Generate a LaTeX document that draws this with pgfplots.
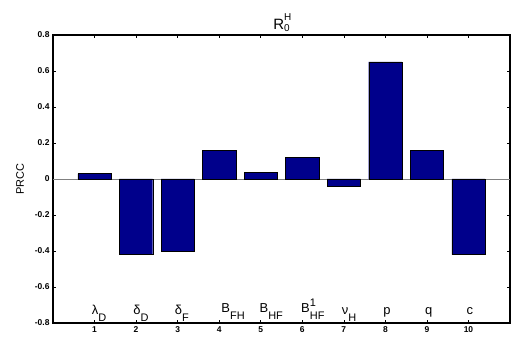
\documentclass[border=0pt]{standalone}
\usepackage{pgfplots}
\pgfplotsset{compat=1.18}
\usepackage{fontspec}
\setmainfont{Liberation Sans}
\definecolor{barblue}{RGB}{0,0,139}
\newcommand{\sub}[1]{\raisebox{-7bp}{\fontsize{11}{11}\selectfont #1}}
\newcommand{\sml}{\fontsize{10}{10}\selectfont}

\begin{document}
\begin{tikzpicture}[x=1bp,y=1bp]
\begin{axis}[
  scale only axis,
  width=457bp, height=288bp,
  xmin=0, xmax=11, ymin=-0.8, ymax=0.8,
  xtick={1,...,10},
  ytick={-0.8,-0.6,-0.4,-0.2,0,0.2,0.4,0.6,0.8},
  tick align=inside,
  major tick length=3bp,
  axis line style={line width=1.1pt},
  tick style={black, line width=0.6pt},
  ticklabel style={font=\fontsize{8.5}{9}\selectfont\bfseries},
  yticklabel style={/pgf/number format/.cd, fixed, precision=1},
  /pgf/number format/assume math mode=true,
  ylabel={PRCC},
  ylabel style={font=\fontsize{11}{12}\selectfont, yshift=4bp},
  title={R\rlap{\raisebox{9bp}{\sml H}}\raisebox{-1.5bp}{\sml 0}},
  title style={font=\fontsize{15}{16}\selectfont, yshift=-6bp},
  clip=false,
]
\addplot[gray, line width=0.6pt, forget plot] coordinates {(0,0) (11,0)};
\addplot[ybar, bar width=0.8, fill=barblue, draw=black, line width=0.4pt]
  coordinates {(1,0.03) (2,-0.42) (3,-0.40) (4,0.16) (5,0.035) (6,0.12) (7,-0.04) (8,0.65) (9,0.16) (10,-0.42)};
\coordinate (sw) at (rel axis cs:0,0);
\begin{scope}[every node/.style={anchor=base west, inner sep=0pt, font=\fontsize{13}{14}\selectfont}]
\node at (axis cs:0.93,-0.752) {λ\sub{D}};
\node at (axis cs:1.93,-0.752) {δ\sub{D}};
\node at (axis cs:2.93,-0.752) {δ\sub{F}};
\node at (axis cs:4.05,-0.744) {B\sub{FH}};
\node at (axis cs:4.97,-0.744) {B\sub{HF}};
\node at (axis cs:5.97,-0.744) {B\rlap{\raisebox{6.5bp}{\fontsize{11}{11}\selectfont 1}}\sub{HF}};
\node at (axis cs:6.95,-0.752) {ν\sub{H}};
\node at (axis cs:7.95,-0.752) {p};
\node at (axis cs:8.95,-0.752) {q};
\node at (axis cs:9.95,-0.752) {c};
\end{scope}
\end{axis}
\path[use as bounding box] (sw) ++(-53bp,-20bp) rectangle ++(532bp,343bp);
\end{tikzpicture}
\end{document}
